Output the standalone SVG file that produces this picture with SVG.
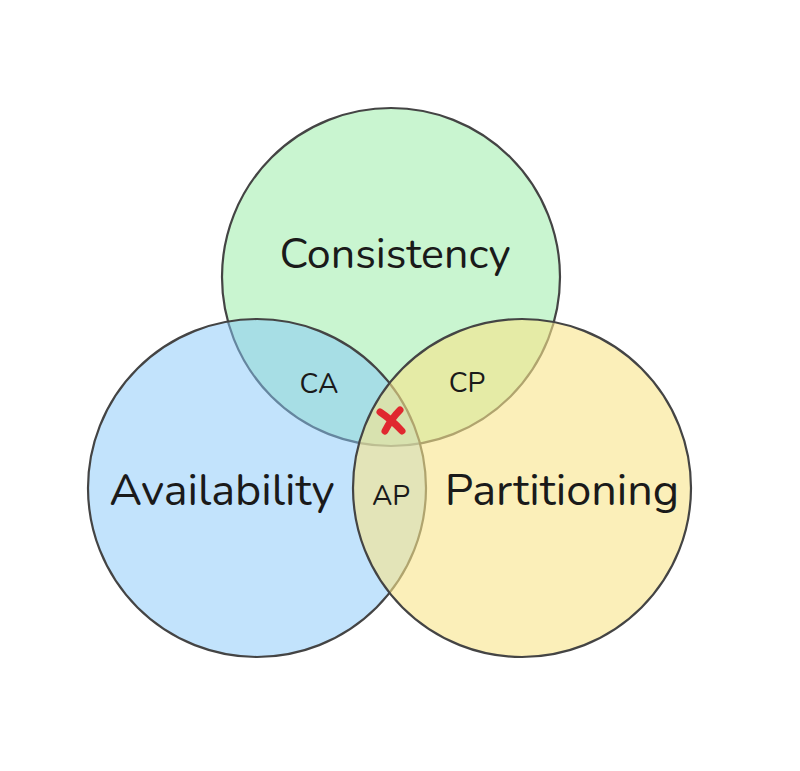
<svg xmlns="http://www.w3.org/2000/svg" width="800" height="771" viewBox="0 0 800 771">
<style>
.c{stroke:#444;stroke-width:2.2}
.big{font-family:"Nunito","Noto Sans","Open Sans",sans-serif;fill:#1a1a1a;text-anchor:middle}
.sm{font-family:"Nunito","Noto Sans","Open Sans",sans-serif;font-size:28px;fill:#1a1a1a;text-anchor:middle}
.x{stroke:#e0282f;stroke-width:7;stroke-linecap:round;fill:none}
</style>
<rect width="800" height="771" fill="#fff"/>
<g id="consistency"><circle class="c" cx="391" cy="277" r="169" fill="rgb(147,235,161)" fill-opacity="0.5"/></g>
<g id="availability"><circle class="c" cx="257" cy="488" r="169" fill="rgb(133,199,249)" fill-opacity="0.5"/></g>
<g id="partitioning"><circle class="c" cx="522" cy="488" r="169" fill="rgb(248,228,138)" fill-opacity="0.6"/></g>
<g id="labels">
<text class="big" x="395" y="268" font-size="43">Consistency</text>
<text class="big" x="222" y="505" font-size="45">Availability</text>
<text class="big" x="562" y="505" font-size="45">Partitioning</text>
<text class="sm" x="319" y="393">CA</text>
<text class="sm" x="467" y="392">CP</text>
<text class="sm" x="391" y="505">AP</text>
</g>
<g id="mark">
<path class="x" d="M380 412 Q392 420 402 431"/>
<path class="x" d="M400 410 Q391 419 385 431"/>
</g>
</svg>
